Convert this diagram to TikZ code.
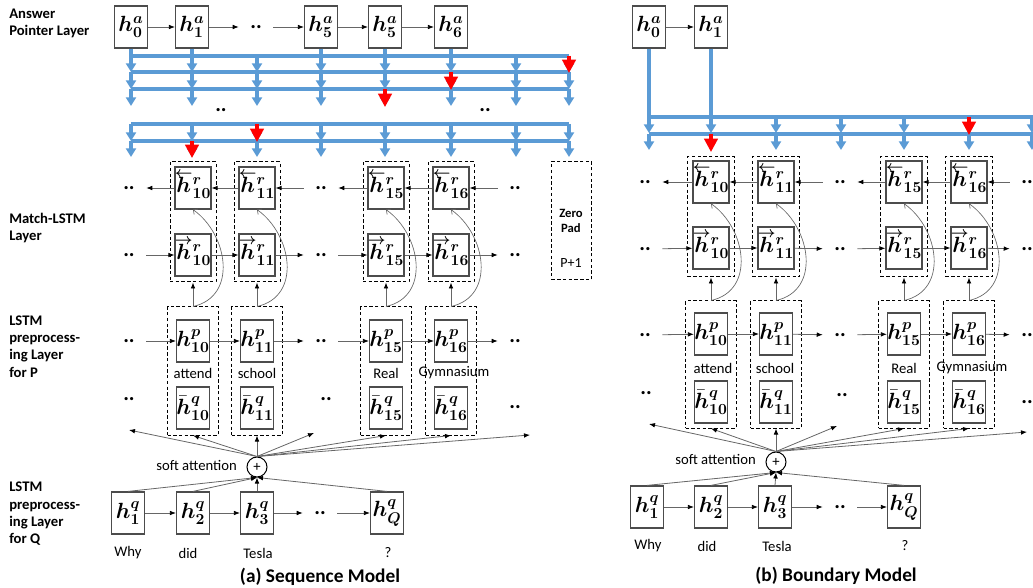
\RequirePackage{fix-cm}
\documentclass[tikz,border=0pt]{standalone}
\usepackage{amsmath}
\usepackage{bm}
\usepackage{fontspec}
\setmainfont{Carlito}
\usetikzlibrary{arrows.meta}
\definecolor{busblue}{RGB}{91,155,213}
\newcommand\HA[2]{$\bm{h}^{\bm{#1}}_{\bm{#2}}$}
\newcommand\HL[2]{$\smash{\overset{\raisebox{-3.5pt}[2pt][0pt]{$\scriptstyle\bm{\leftarrow}$}}{\bm{h}}}\vphantom{\bm{h}}^{\bm{#1}}_{\bm{#2}}$}
\newcommand\HR[2]{$\smash{\overset{\raisebox{-3.5pt}[2pt][0pt]{$\scriptstyle\bm{\rightarrow}$}}{\bm{h}}}\vphantom{\bm{h}}^{\bm{#1}}_{\bm{#2}}$}
\newcommand\HB[2]{$\bar{\bm{h}}^{\bm{#1}}_{\bm{#2}}$}
\begin{document}
\begin{tikzpicture}[x=0.75pt,y=-0.75pt,
 hbox/.style={draw=black!70, line width=0.9pt, fill=white, minimum width=24.75pt, minimum height=31.5pt, inner sep=0pt, font=\fontsize{16.5}{16.5}\selectfont},
 grp/.style={draw=black, dash pattern=on 2.5pt off 1.8pt, line width=0.75pt, inner sep=0pt},
 conn/.style={draw=black!60, line width=0.6pt, -{Latex[length=4.5pt,width=3.5pt,color=black]}},
 curv/.style={draw=black!60, line width=0.5pt, -{Straight Barb[length=2.5pt,width=5pt]}},
 bus/.style={draw=busblue, line width=2.3pt},
 busarr/.style={draw=busblue, line width=2.3pt, -{Triangle[length=6.5pt,width=7.5pt]}},
 redarr/.style={draw=red, line width=2.3pt, -{Triangle[length=10pt,width=10pt]}},
 lbl/.style={font=\fontsize{11}{13}\selectfont\bfseries, align=left, anchor=west, inner sep=0pt},
 word/.style={font=\fontsize{11}{13}\selectfont, inner sep=0pt},
 dots/.style={font=\fontsize{16}{16}\selectfont\bfseries, inner sep=0pt, minimum width=25.5pt, minimum height=8pt},
 sum/.style={draw=black, circle, line width=0.75pt, minimum size=15pt, inner sep=0pt, font=\fontsize{11}{11}\selectfont},
 capt/.style={font=\fontsize{14.5}{16}\selectfont\bfseries, inner sep=0pt}
]
\useasboundingbox (0,0) rectangle (1033,588);

% ---------------- left labels ----------------
\node[lbl] (labAP) at (9,23.5) {Answer\\Pointer Layer};
\node[lbl] (labML) at (9,228) {Match-LSTM\\Layer};
\node[lbl] (labLP) at (9,346.5) {LSTM\\preprocess-\\ing Layer\\for P};
\node[lbl] (labLQ) at (9,514) {LSTM\\preprocess-\\ing Layer\\for Q};

% ================= PANEL A =================
\node[hbox] (a0) at (131,27) {\HA{a}{0}};
\node[hbox] (a1) at (192,27) {\HA{a}{1}};
\node[dots] (adt) at (256,27) {..};
\node[hbox] (a5) at (321,27) {\HA{a}{5}};
\node[hbox] (a5b) at (385,27) {\HA{a}{5}};
\node[hbox] (a6) at (451,27) {\HA{a}{6}};
\draw[conn] (a0) -- (a1);
\draw[conn] (a1) -- (adt);
\draw[conn] (adt) -- (a5);
\draw[conn] (a5) -- (a5b);
\draw[conn] (a5b) -- (a6);

\coordinate (LA1) at (0,56);
\foreach \n in {a0,a1,a5,a5b,a6} \draw[bus] (\n.south) -- (\n.south |- LA1);
\foreach \y in {56,72,89,124,141} \draw[bus] (131,\y) -- (569,\y);
\foreach \x in {131,192,257,321,385,451,516,569} {
  \foreach \ya/\yb in {56/72,72/89,89/106,124/141,141/157}
    \draw[busarr] (\x,\ya) -- (\x,\yb);
}
\draw[redarr] (569,56) -- (569,73);
\draw[redarr] (451,72) -- (451,90);
\draw[redarr] (385,89) -- (385,107);
\draw[redarr] (257,124) -- (257,142);
\draw[redarr] (192,141) -- (192,158);
\node[dots] (abd1) at (221,110) {..};
\node[dots] (abd2) at (485,110) {..};

\foreach \c/\i in {193/10,257/11,386/15,451/16} {
  \node[grp, minimum width=34.5pt, minimum height=90pt] (arg\i) at (\c,222) {};
  \node[grp, minimum width=38.25pt, minimum height=96pt] (apg\i) at (\c,371) {};
  \node[hbox] (arb\i) at (\c,188) {\HL{r}{\i}};
  \node[hbox] (arf\i) at (\c,255) {\HR{r}{\i}};
  \node[hbox] (ap\i) at (\c,341) {\HA{p}{\i}};
  \node[hbox] (aqb\i) at (\c,408) {\HB{q}{\i}};
  \draw[conn] (apg\i.north) -- (arg\i.south);
  \draw[curv] (apg\i.north) .. controls +(45,-10) and +(35,25) .. (arb\i.south);
}
\node[word] (aw1) at (193,373) {attend};
\node[word] (aw2) at (257,373) {school};
\node[word] (aw3) at (386,373) {Real};
\node[word] (aw4) at (454,373) {Gymnasium};

\node[dots] (abl) at (129,188) {..};
\node[dots] (abm) at (321,188) {..};
\node[dots] (abr) at (515,188) {..};
\draw[conn] (arb10) -- (abl);
\draw[conn] (arb11) -- (arb10);
\draw[conn] (abm) -- (arb11);
\draw[conn] (arb15) -- (abm);
\draw[conn] (arb16) -- (arb15);
\draw[conn] (abr) -- (arb16);
\node[dots] (afl) at (129,255) {..};
\node[dots] (afm) at (321,255) {..};
\node[dots] (afr) at (515,255) {..};
\draw[conn] (afl) -- (arf10);
\draw[conn] (arf10) -- (arf11);
\draw[conn] (arf11) -- (afm);
\draw[conn] (afm) -- (arf15);
\draw[conn] (arf15) -- (arf16);
\draw[conn] (arf16) -- (afr);
\node[dots] (apl) at (129,341) {..};
\node[dots] (apm) at (321,341) {..};
\node[dots] (apr) at (515,341) {..};
\draw[conn] (apl) -- (ap10);
\draw[conn] (ap10) -- (ap11);
\draw[conn] (ap11) -- (apm);
\draw[conn] (apm) -- (ap15);
\draw[conn] (ap15) -- (ap16);
\draw[conn] (ap16) -- (apr);
\node[dots] (aql) at (129,399) {..};
\node[dots] (aqm) at (326,399) {..};
\node[dots] (aqr) at (515,407) {..};

\node[grp, minimum width=30pt, minimum height=88.5pt] (zp) at (571.5,220.5) {};
\node[font=\fontsize{9.5}{11.25}\selectfont\bfseries, align=center, inner sep=0pt] (zpt) at (571,220.5) {Zero\\Pad};
\node[word, font=\fontsize{10.5}{12}\selectfont] (zpp) at (571,263) {P+1};

\node[sum] (asum) at (257,467) {+};
\node[word, anchor=east] (asat) at (237,465) {soft attention};
\coordinate (at1) at (129,430);
\coordinate (at2) at (314,433);
\coordinate (at3) at (530,435);
\draw[conn] (asum.north) -- (at1);
\draw[conn] (asum.north) -- (apg10.south);
\draw[conn] (asum.north) -- (apg11.south);
\draw[conn] (asum.north) -- (at2);
\draw[conn] (asum.north) -- (apg15.south);
\draw[conn] (asum.north) -- (apg16.south);
\draw[conn] (asum.north) -- (at3);

\node[hbox] (aQ1) at (128,513) {\HA{q}{1}};
\node[hbox] (aQ2) at (193,513) {\HA{q}{2}};
\node[hbox] (aQ3) at (257,513) {\HA{q}{3}};
\node[dots] (aQd) at (320,513) {..};
\node[hbox] (aQQ) at (387,513) {\HA{q}{Q}};
\draw[conn] (aQ1) -- (aQ2);
\draw[conn] (aQ2) -- (aQ3);
\draw[conn] (aQ3) -- (aQd);
\draw[conn] (aQd) -- (aQQ);
\draw[conn] (aQ1.north) -- (asum.south);
\draw[conn] (aQ2.north) -- (asum.south);
\draw[conn] (aQ3.north) -- (asum.south);
\draw[conn] (aQQ.north) -- (asum.south);
\node[word] (awq1) at (128,553) {Why};
\node[word] (awq2) at (188,553) {did};
\node[word] (awq3) at (258,553) {Tesla};
\node[word] (awq4) at (388,553) {?};
\node[capt] (capa) at (320,577) {(a) Sequence Model};

% ================= PANEL B =================
\node[hbox] (b0) at (649,27) {\HA{a}{0}};
\node[hbox] (b1) at (711,27) {\HA{a}{1}};
\draw[conn] (b0) -- (b1);
\coordinate (LB1) at (0,117);
\foreach \n in {b0,b1} \draw[bus] (\n.south) -- (\n.south |- LB1);
\foreach \y in {117,134} \draw[bus] (649,\y) -- (1045,\y);
\foreach \x in {649,711,776,841,904,969,1032} {
  \draw[busarr] (\x,117) -- (\x,133);
  \draw[busarr] (\x,134) -- (\x,150);
}
\draw[redarr] (969,117) -- (969,135);
\draw[redarr] (711,134) -- (711,152);

\foreach \c/\i in {711/10,776/11,904/15,969/16} {
  \node[grp, minimum width=35.25pt, minimum height=90pt] (brg\i) at (\c,217) {};
  \node[grp, minimum width=38.25pt, minimum height=95.25pt] (bpg\i) at (\c,364.5) {};
  \node[hbox] (brb\i) at (\c,182) {\HL{r}{\i}};
  \node[hbox] (brf\i) at (\c,248) {\HR{r}{\i}};
  \node[hbox] (bp\i) at (\c,334) {\HA{p}{\i}};
  \node[hbox] (bqb\i) at (\c,402) {\HB{q}{\i}};
  \draw[conn] (bpg\i.north) -- (brg\i.south);
  \draw[curv] (bpg\i.north) .. controls +(45,-10) and +(35,25) .. (brb\i.south);
}
\node[word] (bw1) at (713,368) {attend};
\node[word] (bw2) at (775,368) {school};
\node[word] (bw3) at (904,368) {Real};
\node[word] (bw4) at (972,368) {Gymnasium};

\node[dots] (bbl) at (645,182) {..};
\node[dots] (bbm) at (840,182) {..};
\node[dots] (bbr) at (1027,182) {..};
\draw[conn] (brb10) -- (bbl);
\draw[conn] (brb11) -- (brb10);
\draw[conn] (bbm) -- (brb11);
\draw[conn] (brb15) -- (bbm);
\draw[conn] (brb16) -- (brb15);
\draw[conn] (bbr) -- (brb16);

\node[dots] (bfl) at (645,249) {..};
\node[dots] (bfm) at (840,249) {..};
\node[dots] (bfr) at (1027,249) {..};
\draw[conn] (bfl) -- (brf10);
\draw[conn] (brf10) -- (brf11);
\draw[conn] (brf11) -- (bfm);
\draw[conn] (bfm) -- (brf15);
\draw[conn] (brf15) -- (brf16);
\draw[conn] (brf16) -- (bfr);

\node[dots] (bpl) at (645,335) {..};
\node[dots] (bpm) at (840,335) {..};
\node[dots] (bpr) at (1027,335) {..};
\draw[conn] (bpl) -- (bp10);
\draw[conn] (bp10) -- (bp11);
\draw[conn] (bp11) -- (bpm);
\draw[conn] (bpm) -- (bp15);
\draw[conn] (bp15) -- (bp16);
\draw[conn] (bp16) -- (bpr);

\node[dots] (bql) at (646,393) {..};
\node[dots] (bqm) at (842,395) {..};
\node[dots] (bqr) at (1027,402) {..};

\node[sum] (bsum) at (776,462) {+};
\node[word, anchor=east] (bsat) at (756,459) {soft attention};
\coordinate (bt1) at (649,424);
\coordinate (bt2) at (837,426);
\coordinate (bt3) at (1027,432);
\draw[conn] (bsum.north) -- (bt1);
\draw[conn] (bsum.north) -- (bpg10.south);
\draw[conn] (bsum.north) -- (bpg11.south);
\draw[conn] (bsum.north) -- (bt2);
\draw[conn] (bsum.north) -- (bpg15.south);
\draw[conn] (bsum.north) -- (bpg16.south);
\draw[conn] (bsum.north) -- (bt3);

\node[hbox] (bQ1) at (647,507) {\HA{q}{1}};
\node[hbox] (bQ2) at (711,507) {\HA{q}{2}};
\node[hbox] (bQ3) at (775,507) {\HA{q}{3}};
\node[dots] (bQd) at (840,507) {..};
\node[hbox] (bQQ) at (904,507) {\HA{q}{Q}};
\draw[conn] (bQ1) -- (bQ2);
\draw[conn] (bQ2) -- (bQ3);
\draw[conn] (bQ3) -- (bQd);
\draw[conn] (bQd) -- (bQQ);
\draw[conn] (bQ1.north) -- (bsum.south);
\draw[conn] (bQ2.north) -- (bsum.south);
\draw[conn] (bQ3.north) -- (bsum.south);
\draw[conn] (bQQ.north) -- (bsum.south);
\node[word] (bwq1) at (648,546) {Why};
\node[word] (bwq2) at (707,546) {did};
\node[word] (bwq3) at (777,546) {Tesla};
\node[word] (bwq4) at (905,546) {?};
\node[capt] (capb) at (836,576) {(b) Boundary Model};
\end{tikzpicture}
\end{document}
